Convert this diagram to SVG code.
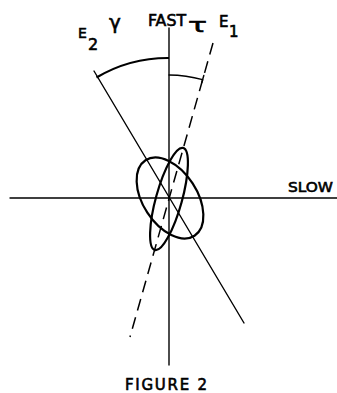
<svg xmlns="http://www.w3.org/2000/svg" width="337" height="393" viewBox="0 0 337 393">
<style>
.ln{stroke:#000;stroke-width:1.4;fill:none;stroke-linecap:round}
.th{stroke:#000;stroke-width:2.2;fill:none}
.ds{stroke:#000;stroke-width:1.5;fill:none;stroke-dasharray:12 7}
.t{font-family:"DejaVu Sans","Liberation Sans",sans-serif;fill:#000;stroke:#000;stroke-width:0.6}
</style>
<rect width="337" height="393" fill="#fff"/>
<g id="axes">
<line class="ln" x1="169" y1="28" x2="169" y2="365"/>
<line class="ln" x1="10" y1="198" x2="337" y2="198"/>
</g>
<g id="connectors">
<line id="e2-axis" class="ln" x1="94" y1="71" x2="244" y2="323"/>
<line id="e1-axis" class="ds" x1="213" y1="43" x2="130" y2="337"/>
<path id="gamma-arc" class="th" d="M 96.5 77.5 A 140 140 0 0 1 169 58"/>
<path id="tau-arc" class="ln" d="M 169 75 A 123 123 0 0 1 202.6 79.7"/>
<line class="ln" x1="203.8" y1="75.5" x2="201.8" y2="82.5"/>
</g>
<g id="ellipse-e2">
<ellipse class="th" cx="0" cy="0" rx="27" ry="45" transform="translate(170 198) rotate(-33)"/>
</g>
<g id="ellipse-e1">
<ellipse class="th" cx="0" cy="0" rx="13" ry="53" transform="translate(169 199) rotate(15.5)"/>
</g>
<g id="labels">
<text class="t" x="148" y="26" font-size="15" textLength="38" lengthAdjust="spacingAndGlyphs">FAST</text>
<text class="t" x="78" y="38" font-size="14">E</text>
<text class="t" x="88" y="50" font-size="16">2</text>
<text class="t" x="109" y="29" font-size="20" stroke-width="0.3">γ</text>
<text class="t" x="188" y="32" font-size="20" stroke-width="0.2" textLength="19" lengthAdjust="spacingAndGlyphs">τ</text>
<text class="t" x="219" y="27" font-size="15">E</text>
<text class="t" x="229" y="37" font-size="15">1</text>
<text class="t" x="288" y="192" font-size="14" textLength="45" lengthAdjust="spacingAndGlyphs">SLOW</text>
<text class="t" x="125" y="390" font-size="15" textLength="82">FIGURE 2</text>
</g>
</svg>
